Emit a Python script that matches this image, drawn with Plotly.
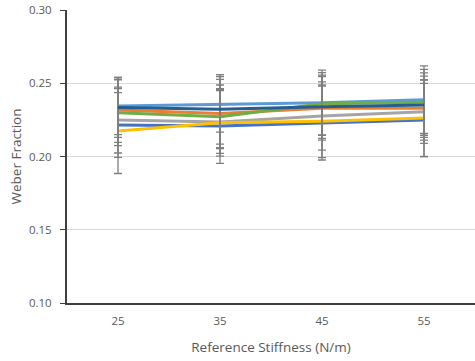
import plotly.graph_objects as go

categories = ["25", "35", "45", "55"]

series_names = ["Series 1", "Series 2", "Series 3", "Series 4", "Series 5", "Series 6", "Series 7"]
series_colors = ["#4472C4", "#ED7D31", "#A5A5A5", "#FFC000", "#5B9BD5", "#70AD47", "#255E91"]

blue_vals = [0.2215, 0.2208, 0.2228, 0.2249]
orange_vals = [0.2317, 0.2294, 0.2329, 0.2330]
gray_vals = [0.2249, 0.2235, 0.2277, 0.2306]
yellow_vals = [0.2174, 0.2230, 0.2240, 0.2262]
lightblue_vals = [0.2345, 0.2356, 0.2367, 0.2388]
green_vals = [0.2299, 0.2271, 0.2360, 0.2370]
darkblue_vals = [0.2335, 0.2322, 0.2340, 0.2351]

blue_err = [0.0221, 0.0255, 0.0252, 0.0250]
orange_err = [0.0220, 0.0233, 0.0217, 0.0218]
gray_err = [0.0225, 0.0214, 0.0233, 0.0216]
yellow_err = [0.0290, 0.0227, 0.0248, 0.0262]
lightblue_err = [0.0195, 0.0190, 0.0223, 0.0230]
green_err = [0.0225, 0.0217, 0.0212, 0.0225]
darkblue_err = [0.0205, 0.0237, 0.0216, 0.0220]

values = [blue_vals, orange_vals, gray_vals, yellow_vals, lightblue_vals, green_vals, darkblue_vals]
errors = [blue_err, orange_err, gray_err, yellow_err, lightblue_err, green_err, darkblue_err]

font_family = "'Open Sans', Lato, sans-serif"
text_color = "#595959"

fig = go.Figure()
for name, color, vals, errs in zip(series_names, series_colors, values, errors):
    fig.add_trace(go.Scatter(
        x=categories, y=vals, name=name, mode="lines",
        line=dict(color=color, width=3),
        error_y=dict(type="data", array=errs, visible=True,
                     color="#7F7F7F", thickness=1.3, width=4),
        showlegend=False,
        cliponaxis=False,
    ))

fig.update_layout(
    width=475, height=361,
    margin=dict(l=67, r=0, t=10, b=58, autoexpand=False),
    paper_bgcolor="white", plot_bgcolor="white",
    font=dict(family=font_family, size=11.5, color=text_color),
    xaxis=dict(
        type="category", range=[-0.5, 3.5], automargin=False,
        showgrid=False, showline=True, linecolor="#404040", linewidth=2,
        ticks="", tickfont=dict(size=11.5, color=text_color),
        ticklabelstandoff=6,
        title=dict(text="Reference Stiffness (N/m)", font=dict(size=13.5, color=text_color), standoff=16),
    ),
    yaxis=dict(
        range=[0.10, 0.30], dtick=0.05, tickformat=".2f", automargin=False,
        showgrid=True, gridcolor="#D9D9D9", gridwidth=1,
        showline=True, linecolor="#404040", linewidth=2,
        ticks="outside", ticklen=5, tickcolor="#404040", tickwidth=1,
        ticklabelstandoff=6, ticklabeloverflow="allow",
        zeroline=False,
        tickfont=dict(size=11.5, color=text_color),
        title=dict(text="Weber Fraction", font=dict(size=13.5, color=text_color), standoff=4),
    ),
)

fig.write_html(
    "out.html",
    config={"displayModeBar": False},
    post_script="document.body.style.margin='0';document.body.style.overflow='hidden';",
)
